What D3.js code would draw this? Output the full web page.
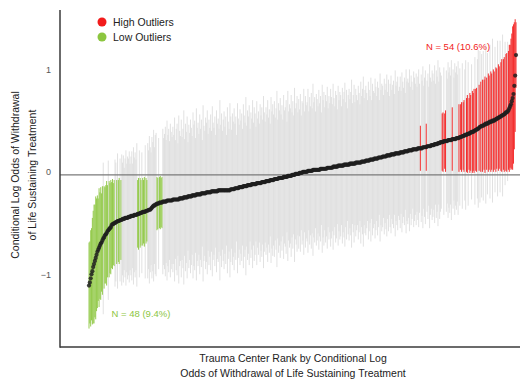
<!DOCTYPE html>
<html>
<head>
<meta charset="utf-8">
<script src="https://cdn.jsdelivr.net/npm/d3@7"></script>
<style>
  html, body { margin: 0; padding: 0; background: #fff; }
  svg { display: block; font-family: "Liberation Sans", Arial, Helvetica, sans-serif; }
</style>
</head>
<body>
<div id="chart"></div>
<script>
// conditional log odds per trauma center, already sorted by rank (510 centers)
const estimates = [
  -1.08,-1.05,-1.01,-0.97,-0.94,-0.90,-0.87,-0.84,-0.81,-0.78,
  -0.75,-0.73,-0.71,-0.69,-0.67,-0.66,-0.64,-0.62,-0.61,-0.59,
  -0.58,-0.57,-0.55,-0.54,-0.53,-0.52,-0.51,-0.49,-0.48,-0.48,
  -0.47,-0.47,-0.46,-0.46,-0.45,-0.45,-0.45,-0.44,-0.44,-0.44,
  -0.43,-0.43,-0.43,-0.42,-0.42,-0.42,-0.42,-0.41,-0.41,-0.41,
  -0.40,-0.40,-0.40,-0.40,-0.39,-0.39,-0.39,-0.39,-0.38,-0.38,
  -0.38,-0.37,-0.37,-0.37,-0.36,-0.36,-0.36,-0.36,-0.35,-0.35,
  -0.35,-0.34,-0.34,-0.34,-0.33,-0.32,-0.31,-0.30,-0.30,-0.29,
  -0.29,-0.28,-0.28,-0.28,-0.27,-0.27,-0.27,-0.27,-0.26,-0.26,
  -0.26,-0.26,-0.26,-0.25,-0.25,-0.25,-0.25,-0.25,-0.25,-0.25,
  -0.24,-0.24,-0.24,-0.24,-0.24,-0.24,-0.24,-0.24,-0.23,-0.23,
  -0.23,-0.23,-0.23,-0.22,-0.22,-0.22,-0.22,-0.22,-0.21,-0.21,
  -0.21,-0.21,-0.21,-0.20,-0.20,-0.20,-0.20,-0.20,-0.19,-0.19,
  -0.19,-0.19,-0.19,-0.19,-0.18,-0.18,-0.18,-0.18,-0.18,-0.18,
  -0.17,-0.17,-0.17,-0.17,-0.17,-0.17,-0.16,-0.16,-0.16,-0.16,
  -0.16,-0.16,-0.16,-0.16,-0.15,-0.15,-0.15,-0.15,-0.15,-0.15,
  -0.15,-0.15,-0.15,-0.15,-0.15,-0.15,-0.15,-0.15,-0.15,-0.14,
  -0.14,-0.14,-0.14,-0.14,-0.13,-0.13,-0.13,-0.13,-0.13,-0.12,
  -0.12,-0.12,-0.12,-0.12,-0.11,-0.11,-0.11,-0.11,-0.11,-0.10,
  -0.10,-0.10,-0.10,-0.10,-0.09,-0.09,-0.09,-0.09,-0.09,-0.09,
  -0.08,-0.08,-0.08,-0.08,-0.08,-0.08,-0.07,-0.07,-0.07,-0.07,
  -0.07,-0.06,-0.06,-0.06,-0.06,-0.06,-0.05,-0.05,-0.05,-0.05,
  -0.05,-0.04,-0.04,-0.04,-0.04,-0.04,-0.03,-0.03,-0.03,-0.03,
  -0.03,-0.03,-0.02,-0.02,-0.02,-0.02,-0.02,-0.01,-0.01,-0.01,
  -0.01,-0.01,0.00,0.00,0.00,0.00,0.01,0.01,0.01,0.01,
  0.01,0.02,0.02,0.02,0.02,0.03,0.03,0.03,0.03,0.03,
  0.03,0.04,0.04,0.04,0.04,0.04,0.04,0.05,0.05,0.05,
  0.05,0.05,0.05,0.05,0.05,0.05,0.06,0.06,0.06,0.06,
  0.06,0.06,0.06,0.06,0.07,0.07,0.07,0.07,0.07,0.07,
  0.07,0.08,0.08,0.08,0.08,0.08,0.08,0.09,0.09,0.09,
  0.09,0.09,0.09,0.09,0.10,0.10,0.10,0.10,0.10,0.10,
  0.10,0.11,0.11,0.11,0.11,0.11,0.11,0.11,0.12,0.12,
  0.12,0.12,0.12,0.12,0.12,0.13,0.13,0.13,0.13,0.13,
  0.14,0.14,0.14,0.14,0.14,0.15,0.15,0.15,0.15,0.15,
  0.16,0.16,0.16,0.16,0.16,0.17,0.17,0.17,0.17,0.17,
  0.18,0.18,0.18,0.18,0.18,0.19,0.19,0.19,0.19,0.19,
  0.20,0.20,0.20,0.20,0.20,0.21,0.21,0.21,0.21,0.21,
  0.21,0.22,0.22,0.22,0.22,0.22,0.23,0.23,0.23,0.23,
  0.23,0.24,0.24,0.24,0.24,0.24,0.25,0.25,0.25,0.25,
  0.25,0.25,0.26,0.26,0.26,0.26,0.26,0.26,0.27,0.27,
  0.27,0.27,0.27,0.28,0.28,0.28,0.28,0.28,0.29,0.29,
  0.29,0.29,0.30,0.30,0.30,0.30,0.31,0.31,0.31,0.32,
  0.32,0.32,0.32,0.33,0.33,0.33,0.33,0.33,0.34,0.34,
  0.34,0.34,0.34,0.35,0.35,0.35,0.35,0.35,0.36,0.36,
  0.36,0.36,0.37,0.37,0.37,0.38,0.38,0.38,0.39,0.39,
  0.39,0.40,0.40,0.40,0.41,0.41,0.42,0.42,0.42,0.43,
  0.43,0.44,0.44,0.45,0.45,0.46,0.47,0.47,0.48,0.48,
  0.48,0.49,0.49,0.50,0.50,0.50,0.51,0.51,0.52,0.52,
  0.52,0.53,0.53,0.53,0.54,0.54,0.55,0.55,0.56,0.56,
  0.57,0.57,0.58,0.58,0.59,0.59,0.60,0.61,0.61,0.62,
  0.63,0.65,0.67,0.69,0.72,0.75,0.79,0.87,0.97,1.17
];

// half width of each center's interval, same order
const halfWidths = [
  0.42,0.40,0.47,0.45,0.52,0.55,0.58,0.55,0.60,0.55,
  0.55,0.50,0.58,0.52,0.55,0.48,0.53,0.74,0.50,0.47,
  0.48,0.51,0.45,0.68,0.47,0.44,0.46,0.42,0.44,0.40,
  0.42,0.62,0.58,0.41,0.66,0.40,0.42,0.60,0.39,0.64,
  0.55,0.62,0.50,0.58,0.66,0.53,0.60,0.57,0.64,0.52,
  0.58,0.63,0.51,0.67,0.56,0.61,0.54,0.70,0.33,0.35,
  0.62,0.34,0.32,0.59,0.33,0.31,0.34,0.65,0.32,0.30,
  0.66,0.58,0.72,0.61,0.55,0.69,0.63,0.74,0.57,0.68,
  0.70,0.26,0.25,0.64,0.25,0.26,0.24,0.25,0.71,0.62,
  0.66,0.73,0.60,0.78,0.64,0.70,0.58,0.75,0.67,0.62,
  0.71,0.63,0.80,0.58,0.69,0.74,0.55,0.82,0.66,0.61,
  0.77,0.60,0.68,0.85,0.57,0.72,0.64,0.79,0.53,0.70,
  0.62,0.75,0.67,0.58,0.81,0.69,0.73,0.56,0.84,0.65,
  0.70,0.59,0.78,0.64,0.72,0.52,0.86,0.66,0.61,0.74,
  0.68,0.80,0.57,0.71,0.63,0.76,0.59,0.83,0.67,0.62,
  0.73,0.55,0.79,0.66,0.70,0.60,0.88,0.64,0.75,0.58,
  0.69,0.77,0.62,0.72,0.54,0.81,0.67,0.60,0.85,0.71,
  0.58,0.74,0.66,0.79,0.63,0.70,0.52,0.83,0.68,0.61,
  0.76,0.65,0.72,0.57,0.80,0.69,0.62,0.87,0.59,0.73,
  0.67,0.78,0.55,0.71,0.64,0.82,0.60,0.75,0.69,0.56,
  0.80,0.63,0.70,0.58,0.77,0.66,0.73,0.61,0.84,0.68,
  0.59,0.72,0.65,0.79,0.62,0.70,0.55,0.81,0.67,0.74,
  0.64,0.76,0.60,0.69,0.86,0.58,0.73,0.66,0.78,0.62,
  0.71,0.57,0.80,0.65,0.68,0.75,0.54,0.83,0.63,0.70,
  0.66,0.79,0.61,0.72,0.58,0.85,0.64,0.69,0.76,0.60,
  0.73,0.62,0.77,0.56,0.70,0.67,0.81,0.59,0.74,0.65,
  0.68,0.80,0.58,0.72,0.63,0.76,0.61,0.84,0.66,0.71,
  0.57,0.74,0.69,0.62,0.78,0.65,0.71,0.55,0.82,0.67,
  0.75,0.60,0.72,0.66,0.79,0.58,0.70,0.63,0.77,0.69,
  0.62,0.81,0.67,0.59,0.74,0.70,0.56,0.78,0.64,0.72,
  0.69,0.58,0.76,0.65,0.71,0.80,0.61,0.73,0.55,0.68,
  0.74,0.63,0.70,0.82,0.59,0.67,0.77,0.60,0.72,0.66,
  0.61,0.75,0.68,0.57,0.79,0.64,0.71,0.83,0.62,0.70,
  0.73,0.66,0.59,0.77,0.69,0.62,0.80,0.58,0.74,0.67,
  0.64,0.78,0.70,0.61,0.75,0.68,0.56,0.82,0.66,0.72,
  0.69,0.60,0.76,0.65,0.71,0.79,0.62,0.74,0.58,0.70,
  0.77,0.63,0.68,0.72,0.59,0.81,0.66,0.70,0.75,0.61,
  0.65,0.74,0.60,0.78,0.69,0.63,0.72,0.57,0.80,0.68,
  0.71,0.66,0.79,0.62,0.73,0.67,0.58,0.76,0.70,0.64,
  0.74,0.61,0.70,0.77,0.63,0.22,0.72,0.66,0.79,0.60,
  0.68,0.75,0.23,0.64,0.71,0.58,0.80,0.67,0.62,0.73,
  0.70,0.63,0.77,0.59,0.72,0.66,0.81,0.60,0.74,0.68,
  0.65,0.28,0.29,0.72,0.27,0.30,0.69,0.61,0.76,0.66,
  0.71,0.63,0.78,0.31,0.68,0.60,0.74,0.65,0.70,0.62,
  0.75,0.33,0.67,0.32,0.34,0.71,0.33,0.35,0.64,0.73,
  0.36,0.38,0.70,0.35,0.39,0.37,0.66,0.40,0.38,0.41,
  0.72,0.40,0.41,0.68,0.77,0.42,0.74,0.44,0.70,0.45,
  0.73,0.44,0.47,0.78,0.45,0.69,0.48,0.46,0.75,0.49,
  0.47,0.80,0.50,0.48,0.71,0.51,0.49,0.76,0.52,0.50,
  0.74,0.53,0.55,0.79,0.54,0.56,0.70,0.57,0.58,0.68,
  0.58,0.62,0.60,0.64,0.66,0.70,0.68,0.62,0.55,0.32
];

const yTicks = [-1, 0, 1];
const groups = ['none', 'low', 'high'];
const groupColors = { none: '#dedede', low: '#8cc63f', high: '#f21b1b' };
const legendItems = [
  { key: 'high', label: 'High Outliers' },
  { key: 'low', label: 'Low Outliers' }
];
const countLabels = [
  { key: 'high', text: 'N = 54 (10.6%)' },
  { key: 'low', text: 'N = 48 (9.4%)' }
];
const xTitle = ['Trauma Center Rank by Conditional Log', 'Odds of Withdrawal of Life Sustaining Treatment'];
const yTitle = ['Conditional Log Odds of Withdrawal', 'of Life Sustaining Treatment'];

const width = 520, height = 379;
const plotLeft = 60, plotRight = 520, plotTop = 10, plotBottom = 347;

const centers = estimates.map((est, i) => {
  const lo = est - halfWidths[i];
  const hi = est + halfWidths[i];
  return { rank: i, est, lo, hi, group: lo > 0 ? 'high' : (hi < 0 ? 'low' : 'none') };
});

const svg = d3.select('#chart').append('svg')
  .attr('width', width)
  .attr('height', height);

const x = d3.scaleLinear()
  .domain([0, estimates.length - 1])
  .range([89, 516]);

const y = d3.scaleLinear()
  .domain([-1.68, 1.61])
  .range([plotBottom, plotTop]);

// intervals, gray first so the outliers sit on top
const ordered = centers.slice().sort((a, b) => groups.indexOf(a.group) - groups.indexOf(b.group));
svg.append('g')
  .selectAll('line')
  .data(ordered)
  .enter()
  .append('line')
  .attr('x1', d => x(d.rank))
  .attr('x2', d => x(d.rank))
  .attr('y1', d => y(d.lo))
  .attr('y2', d => y(d.hi))
  .attr('stroke', d => groupColors[d.group])
  .attr('stroke-width', 0.9);

// reference line at zero
svg.append('line')
  .attr('x1', plotLeft).attr('x2', plotRight)
  .attr('y1', y(0)).attr('y2', y(0))
  .attr('stroke', '#7a7a7a')
  .attr('stroke-width', 1.2);

// point estimates
svg.append('g')
  .selectAll('circle')
  .data(centers)
  .enter()
  .append('circle')
  .attr('cx', d => x(d.rank))
  .attr('cy', d => y(d.est))
  .attr('r', 2.1)
  .attr('fill', '#1e1e1e')
  .attr('fill-opacity', 0.85);

// axes
const yAxis = svg.append('g')
  .attr('transform', `translate(${plotLeft},0)`)
  .call(d3.axisLeft(y).tickValues(yTicks).tickSize(0).tickPadding(9).tickFormat(d3.format('d')));
yAxis.select('.domain').remove();
yAxis.selectAll('text')
  .attr('fill', '#555')
  .attr('font-size', 9)
  .attr('transform', 'translate(0,-3)')
  .style('font-family', '"Liberation Sans", Arial, sans-serif');

svg.append('line')
  .attr('x1', plotLeft).attr('x2', plotLeft)
  .attr('y1', plotTop).attr('y2', plotBottom + 0.75)
  .attr('stroke', '#3a3a3a').attr('stroke-width', 1.5);
svg.append('line')
  .attr('x1', plotLeft).attr('x2', plotRight)
  .attr('y1', plotBottom).attr('y2', plotBottom)
  .attr('stroke', '#3a3a3a').attr('stroke-width', 1.5);

// titles
svg.append('g')
  .selectAll('text')
  .data(xTitle)
  .enter()
  .append('text')
  .attr('x', 293)
  .attr('y', (d, i) => 362 + i * 15)
  .attr('text-anchor', 'middle')
  .attr('font-size', 10.5)
  .attr('fill', '#222')
  .text(d => d);

svg.append('g')
  .selectAll('text')
  .data(yTitle)
  .enter()
  .append('text')
  .attr('transform', (d, i) => `translate(${19 + i * 17},175) rotate(-90)`)
  .attr('text-anchor', 'middle')
  .attr('font-size', 10.5)
  .attr('fill', '#222')
  .text(d => d);

// legend
const legend = svg.append('g')
  .selectAll('g')
  .data(legendItems)
  .enter()
  .append('g')
  .attr('transform', (d, i) => `translate(102,${22 + i * 15})`);
legend.append('circle')
  .attr('r', 4.5)
  .attr('fill', d => groupColors[d.key]);
legend.append('text')
  .attr('x', 11)
  .attr('dy', '0.35em')
  .attr('font-size', 10.5)
  .attr('fill', '#222')
  .text(d => d.label);

// outlier counts
const countPos = { high: [458, 50], low: [141, 317] };
svg.append('g')
  .selectAll('text')
  .data(countLabels)
  .enter()
  .append('text')
  .attr('x', d => countPos[d.key][0])
  .attr('y', d => countPos[d.key][1])
  .attr('text-anchor', 'middle')
  .attr('font-size', 9.5)
  .attr('fill', d => groupColors[d.key])
  .text(d => d.text);
</script>
</body>
</html>
